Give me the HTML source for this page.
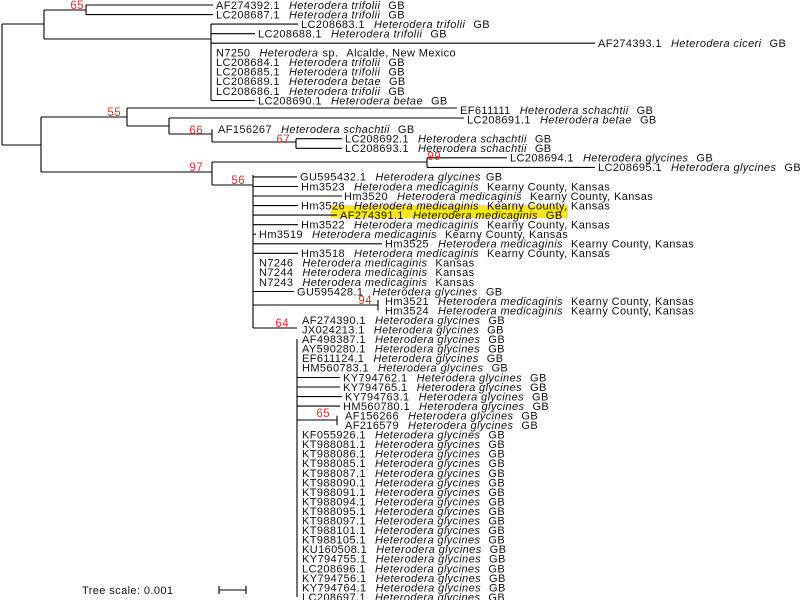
<!DOCTYPE html>
<html><head><meta charset="utf-8"><style>
html,body{margin:0;padding:0;background:#fff;width:800px;height:600px;overflow:hidden}
svg{display:block}
text{font-family:"Liberation Sans",Arial,sans-serif;font-size:11px;fill:#111;letter-spacing:0.4px}
.i{font-style:italic}
.r{fill:#e0302a;font-size:11.5px;text-anchor:end}
line{stroke:#000;stroke-width:1.1}
</style></head><body>
<svg width="800" height="600" viewBox="0 0 800 600">
<rect x="331" y="205" width="237" height="13" fill="#f8e71c"/>
<g>
<line x1="2" y1="24" x2="2" y2="145"/>
<line x1="2" y1="24" x2="44" y2="24"/>
<line x1="2" y1="145" x2="41" y2="145"/>
<line x1="44" y1="10" x2="44" y2="39"/>
<line x1="44" y1="10" x2="86" y2="10"/>
<line x1="86" y1="5" x2="86" y2="14.6"/>
<line x1="86" y1="5" x2="213" y2="5"/>
<line x1="86" y1="14.6" x2="213" y2="14.6"/>
<line x1="44" y1="39" x2="211" y2="39"/>
<line x1="211" y1="24.1" x2="211" y2="100.5"/>
<line x1="211" y1="24.1" x2="298" y2="24.1"/>
<line x1="211" y1="33.7" x2="255" y2="33.7"/>
<line x1="211" y1="43.2" x2="595" y2="43.2"/>
<line x1="211" y1="100.5" x2="255" y2="100.5"/>
<line x1="41" y1="117" x2="41" y2="172"/>
<line x1="41" y1="117" x2="127" y2="117"/>
<line x1="127" y1="108" x2="127" y2="126"/>
<line x1="127" y1="108" x2="457" y2="108"/>
<line x1="127" y1="126" x2="169" y2="126"/>
<line x1="169" y1="118" x2="169" y2="134"/>
<line x1="169" y1="118" x2="464" y2="118"/>
<line x1="169" y1="134" x2="212" y2="134"/>
<line x1="212" y1="129.2" x2="212" y2="142"/>
<line x1="212" y1="142" x2="296" y2="142"/>
<line x1="296" y1="138.7" x2="296" y2="148.3"/>
<line x1="296" y1="138.7" x2="342" y2="138.7"/>
<line x1="296" y1="148.3" x2="342" y2="148.3"/>
<line x1="41" y1="172" x2="212" y2="172"/>
<line x1="212" y1="162" x2="212" y2="185"/>
<line x1="212" y1="162" x2="427" y2="162"/>
<line x1="427" y1="157.8" x2="427" y2="167.4"/>
<line x1="427" y1="157.8" x2="507" y2="157.8"/>
<line x1="427" y1="167.4" x2="595" y2="167.4"/>
<line x1="212" y1="185" x2="253" y2="185"/>
<line x1="253" y1="175" x2="253" y2="328"/>
<line x1="253" y1="176.9" x2="297" y2="176.9"/>
<line x1="253" y1="186.5" x2="298" y2="186.5"/>
<line x1="253" y1="196" x2="342" y2="196"/>
<line x1="253" y1="205.6" x2="298" y2="205.6"/>
<line x1="253" y1="215.1" x2="337" y2="215.1"/>
<line x1="253" y1="224.7" x2="298" y2="224.7"/>
<line x1="253" y1="234.2" x2="256" y2="234.2"/>
<line x1="253" y1="243.8" x2="382" y2="243.8"/>
<line x1="253" y1="253.3" x2="298" y2="253.3"/>
<line x1="253" y1="291.5" x2="294" y2="291.5"/>
<line x1="253" y1="305" x2="378" y2="305"/>
<line x1="378" y1="300" x2="378" y2="310.6"/>
<line x1="253" y1="328" x2="297" y2="328"/>
<line x1="297" y1="339" x2="297" y2="597.1"/>
<line x1="297" y1="377.5" x2="340" y2="377.5"/>
<line x1="297" y1="387" x2="340" y2="387"/>
<line x1="297" y1="396.6" x2="342" y2="396.6"/>
<line x1="297" y1="406.1" x2="340" y2="406.1"/>
<line x1="297" y1="420" x2="337" y2="420"/>
<line x1="337" y1="415.7" x2="337" y2="425.2"/>
<line x1="219" y1="590" x2="246" y2="590"/>
<line x1="219" y1="586" x2="219" y2="594"/>
<line x1="246" y1="586" x2="246" y2="594"/>
</g>
<text class="r" x="84" y="9">65</text>
<text class="r" x="121" y="116">55</text>
<text class="r" x="203" y="134">66</text>
<text class="r" x="290" y="143">67</text>
<text class="r" x="203" y="171">97</text>
<text class="r" x="441" y="160">99</text>
<text class="r" x="245" y="184">56</text>
<text class="r" x="372" y="304">94</text>
<text class="r" x="289" y="327">64</text>
<text class="r" x="330" y="417">65</text>
<g>
<text x="216" y="8.8">AF274392.1<tspan class="i" dx="9">Heterodera trifolii</tspan><tspan dx="8">GB</tspan></text>
<text x="216" y="18.4">LC208687.1<tspan class="i" dx="9">Heterodera trifolii</tspan><tspan dx="8">GB</tspan></text>
<text x="301" y="27.9">LC208683.1<tspan class="i" dx="9">Heterodera trifolii</tspan><tspan dx="8">GB</tspan></text>
<text x="258" y="37.5">LC208688.1<tspan class="i" dx="9">Heterodera trifolii</tspan><tspan dx="8">GB</tspan></text>
<text x="598" y="47">AF274393.1<tspan class="i" dx="9">Heterodera ciceri</tspan><tspan dx="8">GB</tspan></text>
<text x="216" y="56.6">N7250<tspan class="i" dx="9">Heterodera</tspan><tspan dx="4">sp.</tspan><tspan dx="8">Alcalde, New Mexico</tspan></text>
<text x="216" y="66.1">LC208684.1<tspan class="i" dx="9">Heterodera trifolii</tspan><tspan dx="8">GB</tspan></text>
<text x="216" y="75.7">LC208685.1<tspan class="i" dx="9">Heterodera trifolii</tspan><tspan dx="8">GB</tspan></text>
<text x="216" y="85.2">LC208689.1<tspan class="i" dx="9">Heterodera betae</tspan><tspan dx="8">GB</tspan></text>
<text x="216" y="94.8">LC208686.1<tspan class="i" dx="9">Heterodera trifolii</tspan><tspan dx="8">GB</tspan></text>
<text x="258" y="104.3">LC208690.1<tspan class="i" dx="9">Heterodera betae</tspan><tspan dx="8">GB</tspan></text>
<text x="460" y="113.9">EF611111<tspan class="i" dx="9">Heterodera schachtii</tspan><tspan dx="8">GB</tspan></text>
<text x="467" y="123.4">LC208691.1<tspan class="i" dx="9">Heterodera betae</tspan><tspan dx="8">GB</tspan></text>
<text x="218" y="133">AF156267<tspan class="i" dx="9">Heterodera schachtii</tspan><tspan dx="8">GB</tspan></text>
<text x="345" y="142.5">LC208692.1<tspan class="i" dx="9">Heterodera schachtii</tspan><tspan dx="8">GB</tspan></text>
<text x="345" y="152.1">LC208693.1<tspan class="i" dx="9">Heterodera schachtii</tspan><tspan dx="8">GB</tspan></text>
<text x="510" y="161.6">LC208694.1<tspan class="i" dx="9">Heterodera glycines</tspan><tspan dx="8">GB</tspan></text>
<text x="598" y="171.2">LC208695.1<tspan class="i" dx="9">Heterodera glycines</tspan><tspan dx="8">GB</tspan></text>
<text x="300" y="180.7">GU595432.1<tspan class="i" dx="9">Heterodera glycines</tspan><tspan dx="5">GB</tspan></text>
<text x="301" y="190.3">Hm3523<tspan class="i" dx="9">Heterodera medicaginis</tspan><tspan dx="8">Kearny County, Kansas</tspan></text>
<text x="344" y="199.8">Hm3520<tspan class="i" dx="9">Heterodera medicaginis</tspan><tspan dx="8">Kearny County, Kansas</tspan></text>
<text x="301" y="209.4">Hm3526<tspan class="i" dx="9">Heterodera medicaginis</tspan><tspan dx="8">Kearny County, Kansas</tspan></text>
<text x="340" y="218.9">AF274391.1<tspan class="i" dx="9">Heterodera medicaginis</tspan><tspan dx="8">GB</tspan></text>
<text x="301" y="228.5">Hm3522<tspan class="i" dx="9">Heterodera medicaginis</tspan><tspan dx="8">Kearny County, Kansas</tspan></text>
<text x="259" y="238">Hm3519<tspan class="i" dx="9">Heterodera medicaginis</tspan><tspan dx="8">Kearny County, Kansas</tspan></text>
<text x="385" y="247.6">Hm3525<tspan class="i" dx="9">Heterodera medicaginis</tspan><tspan dx="8">Kearny County, Kansas</tspan></text>
<text x="301" y="257.1">Hm3518<tspan class="i" dx="9">Heterodera medicaginis</tspan><tspan dx="8">Kearny County, Kansas</tspan></text>
<text x="259" y="266.7">N7246<tspan class="i" dx="9">Heterodera medicaginis</tspan><tspan dx="8">Kansas</tspan></text>
<text x="259" y="276.2">N7244<tspan class="i" dx="9">Heterodera medicaginis</tspan><tspan dx="8">Kansas</tspan></text>
<text x="259" y="285.8">N7243<tspan class="i" dx="9">Heterodera medicaginis</tspan><tspan dx="8">Kansas</tspan></text>
<text x="297" y="295.3">GU595428.1<tspan class="i" dx="9">Heterodera glycines</tspan><tspan dx="8">GB</tspan></text>
<text x="385" y="304.9">Hm3521<tspan class="i" dx="9">Heterodera medicaginis</tspan><tspan dx="8">Kearny County, Kansas</tspan></text>
<text x="385" y="314.4">Hm3524<tspan class="i" dx="9">Heterodera medicaginis</tspan><tspan dx="8">Kearny County, Kansas</tspan></text>
<text x="302" y="324">AF274390.1<tspan class="i" dx="9">Heterodera glycines</tspan><tspan dx="8">GB</tspan></text>
<text x="302" y="333.5">JX024213.1<tspan class="i" dx="9">Heterodera glycines</tspan><tspan dx="8">GB</tspan></text>
<text x="302" y="343.1">AF498387.1<tspan class="i" dx="9">Heterodera glycines</tspan><tspan dx="8">GB</tspan></text>
<text x="302" y="352.6">AY590280.1<tspan class="i" dx="9">Heterodera glycines</tspan><tspan dx="8">GB</tspan></text>
<text x="302" y="362.2">EF611124.1<tspan class="i" dx="9">Heterodera glycines</tspan><tspan dx="8">GB</tspan></text>
<text x="302" y="371.7">HM560783.1<tspan class="i" dx="9">Heterodera glycines</tspan><tspan dx="8">GB</tspan></text>
<text x="343" y="381.3">KY794762.1<tspan class="i" dx="9">Heterodera glycines</tspan><tspan dx="8">GB</tspan></text>
<text x="343" y="390.8">KY794765.1<tspan class="i" dx="9">Heterodera glycines</tspan><tspan dx="8">GB</tspan></text>
<text x="345" y="400.4">KY794763.1<tspan class="i" dx="9">Heterodera glycines</tspan><tspan dx="8">GB</tspan></text>
<text x="343" y="409.9">HM560780.1<tspan class="i" dx="9">Heterodera glycines</tspan><tspan dx="8">GB</tspan></text>
<text x="345" y="419.5">AF156266<tspan class="i" dx="9">Heterodera glycines</tspan><tspan dx="8">GB</tspan></text>
<text x="345" y="429">AF216579<tspan class="i" dx="9">Heterodera glycines</tspan><tspan dx="8">GB</tspan></text>
<text x="302" y="438.6">KF055926.1<tspan class="i" dx="9">Heterodera glycines</tspan><tspan dx="8">GB</tspan></text>
<text x="302" y="448.1">KT988081.1<tspan class="i" dx="9">Heterodera glycines</tspan><tspan dx="8">GB</tspan></text>
<text x="302" y="457.7">KT988086.1<tspan class="i" dx="9">Heterodera glycines</tspan><tspan dx="8">GB</tspan></text>
<text x="302" y="467.2">KT988085.1<tspan class="i" dx="9">Heterodera glycines</tspan><tspan dx="8">GB</tspan></text>
<text x="302" y="476.8">KT988087.1<tspan class="i" dx="9">Heterodera glycines</tspan><tspan dx="8">GB</tspan></text>
<text x="302" y="486.3">KT988090.1<tspan class="i" dx="9">Heterodera glycines</tspan><tspan dx="8">GB</tspan></text>
<text x="302" y="495.9">KT988091.1<tspan class="i" dx="9">Heterodera glycines</tspan><tspan dx="8">GB</tspan></text>
<text x="302" y="505.4">KT988094.1<tspan class="i" dx="9">Heterodera glycines</tspan><tspan dx="8">GB</tspan></text>
<text x="302" y="515">KT988095.1<tspan class="i" dx="9">Heterodera glycines</tspan><tspan dx="8">GB</tspan></text>
<text x="302" y="524.5">KT988097.1<tspan class="i" dx="9">Heterodera glycines</tspan><tspan dx="8">GB</tspan></text>
<text x="302" y="534.1">KT988101.1<tspan class="i" dx="9">Heterodera glycines</tspan><tspan dx="8">GB</tspan></text>
<text x="302" y="543.6">KT988105.1<tspan class="i" dx="9">Heterodera glycines</tspan><tspan dx="8">GB</tspan></text>
<text x="302" y="553.2">KU160508.1<tspan class="i" dx="9">Heterodera glycines</tspan><tspan dx="8">GB</tspan></text>
<text x="302" y="562.7">KY794755.1<tspan class="i" dx="9">Heterodera glycines</tspan><tspan dx="8">GB</tspan></text>
<text x="302" y="572.3">LC208696.1<tspan class="i" dx="9">Heterodera glycines</tspan><tspan dx="8">GB</tspan></text>
<text x="302" y="581.8">KY794756.1<tspan class="i" dx="9">Heterodera glycines</tspan><tspan dx="8">GB</tspan></text>
<text x="302" y="591.4">KY794764.1<tspan class="i" dx="9">Heterodera glycines</tspan><tspan dx="8">GB</tspan></text>
<text x="302" y="600.9">LC208697.1<tspan class="i" dx="9">Heterodera glycines</tspan><tspan dx="8">GB</tspan></text>
<text x="82" y="594">Tree scale: 0.001</text>
</g>
</svg>
</body></html>
